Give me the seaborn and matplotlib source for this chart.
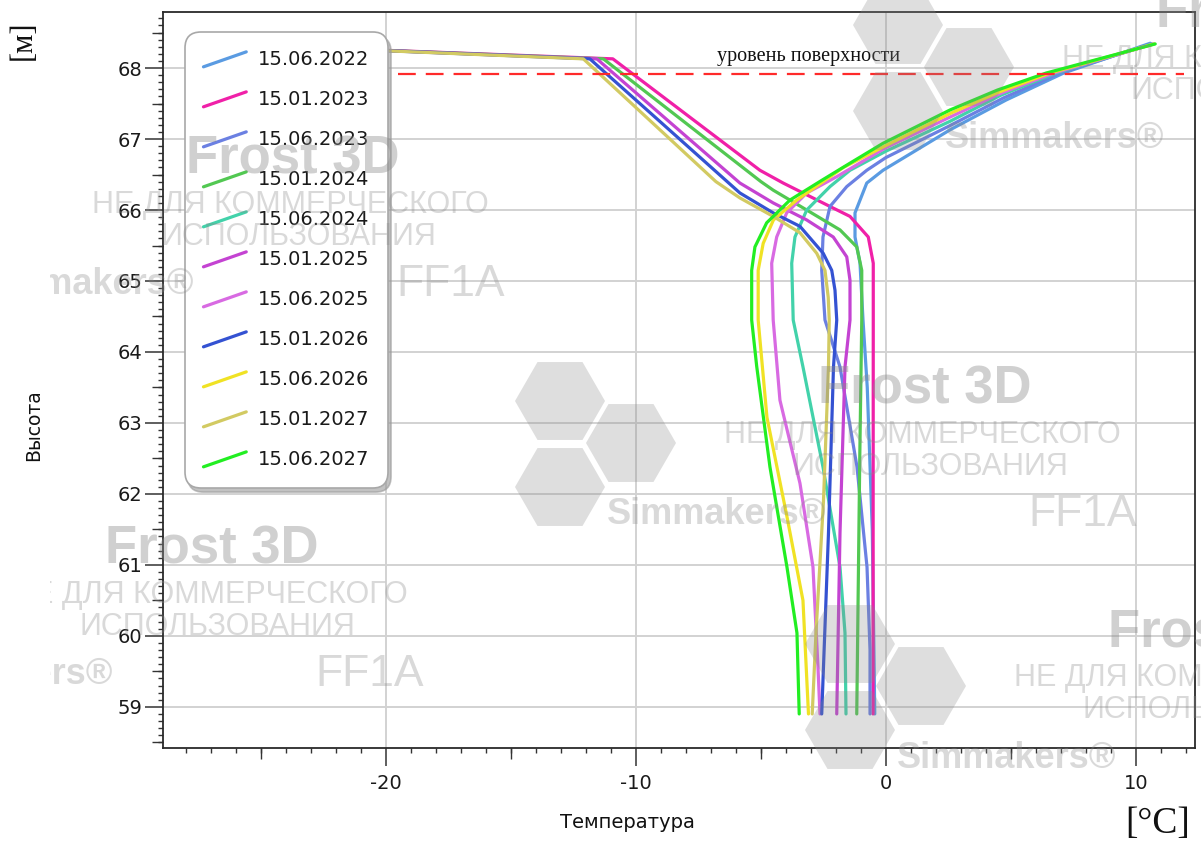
import numpy as np
import pandas as pd
import matplotlib
matplotlib.use("Agg")
import matplotlib.pyplot as plt
import seaborn as sns
from matplotlib.lines import Line2D
from matplotlib.legend_handler import HandlerLine2D
from matplotlib.patches import RegularPolygon, Rectangle
from matplotlib.ticker import MultipleLocator, FuncFormatter, NullLocator
from matplotlib.transforms import IdentityTransform

# ---------------- data ----------------
dates = ["15.06.2022", "15.01.2023", "15.06.2023", "15.01.2024", "15.06.2024",
         "15.01.2025", "15.06.2025", "15.01.2026", "15.06.2026", "15.01.2027",
         "15.06.2027"]
colors = ["#5a9be2", "#f020a8", "#6b80e2", "#52c852", "#42d2aa",
          "#c443d2", "#d86ae2", "#3452d2", "#f0e224", "#d2ca62",
          "#22ee22"]

t_2022_06 = [10.56, 7.1, 4.8, 2.56, -0.12, -0.77, -1.24, -1.24, -1.04, -0.92, -0.75, -0.55, -0.45]
z_2022_06 = [68.35, 67.93, 67.55, 67.13, 66.56, 66.38, 65.96, 65.62, 65.25, 64.45, 63.5, 61.5, 58.9]

t_2023_01 = [-26.0, -10.92, -5.04, -4.11, -2.24, -1.44, -0.71, -0.51, -0.51, -0.52]
z_2023_01 = [68.33, 68.13, 66.56, 66.38, 66.05, 65.91, 65.62, 65.25, 64.45, 58.9]

t_2023_06 = [10.6, 6.95, 4.7, 2.56, 0.0, -0.77, -1.57, -2.24, -2.52, -2.57, -2.44, -1.84, -1.16, -0.76, -0.64, -0.64]
z_2023_06 = [68.34, 67.93, 67.58, 67.19, 66.74, 66.56, 66.33, 66.05, 65.62, 65.15, 64.45, 63.79, 62.38, 60.97, 59.8, 58.9]

t_2024_01 = [-26.0, -11.3, -5.0, -4.51, -3.17, -1.84, -1.17, -0.97, -0.97, -1.05, -1.17]
z_2024_01 = [68.33, 68.13, 66.4, 66.28, 66.0, 65.72, 65.48, 65.15, 64.45, 62.5, 58.9]

t_2024_06 = [10.65, 6.8, 4.6, 2.56, 0.0, -1.44, -2.24, -3.17, -3.64, -3.77, -3.71, -3.32, -2.52, -1.84, -1.64, -1.6]
z_2024_06 = [68.34, 67.93, 67.62, 67.25, 66.83, 66.56, 66.33, 66.0, 65.62, 65.25, 64.45, 63.79, 62.38, 60.97, 60.04, 58.9]

t_2025_01 = [-26.0, -11.56, -5.84, -4.51, -3.17, -2.11, -1.57, -1.44, -1.44, -1.64, -1.84, -1.97]
z_2025_01 = [68.33, 68.13, 66.38, 66.1, 65.86, 65.62, 65.34, 65.01, 64.45, 63.79, 61.45, 58.9]

t_2025_06 = [10.7, 6.7, 4.55, 2.56, 0.0, -1.97, -3.17, -3.97, -4.37, -4.57, -4.51, -4.24, -3.44, -2.92, -2.72, -2.64]
z_2025_06 = [68.34, 67.93, 67.64, 67.31, 66.88, 66.47, 66.24, 65.96, 65.62, 65.25, 64.45, 63.32, 62.15, 60.97, 59.56, 58.9]

t_2026_01 = [-26.0, -11.84, -5.84, -4.51, -3.44, -2.51, -2.17, -2.04, -1.97, -2.1, -2.3, -2.57]
z_2026_01 = [68.33, 68.13, 66.24, 65.96, 65.77, 65.39, 65.15, 64.87, 64.45, 63.79, 61.45, 58.9]

t_2026_06 = [10.72, 6.55, 4.5, 2.56, 0.0, -1.7, -3.57, -4.5, -4.91, -5.11, -5.11, -4.76, -3.96, -3.32, -3.1]
z_2026_06 = [68.34, 67.93, 67.66, 67.36, 66.91, 66.6, 66.14, 65.86, 65.53, 65.15, 64.45, 63.08, 61.68, 60.5, 58.9]

t_2027_01 = [-26.0, -12.1, -6.8, -5.84, -4.51, -3.44, -2.77, -2.44, -2.31, -2.27, -2.3, -2.5, -2.8, -2.95]
z_2027_01 = [68.33, 68.13, 66.4, 66.17, 65.91, 65.68, 65.39, 65.15, 64.77, 64.45, 63.79, 61.9, 60.04, 58.9]

t_2027_06 = [10.76, 6.4, 4.45, 2.56, -0.12, -1.44, -2.56, -3.84, -4.77, -5.24, -5.37, -5.37, -5.17, -4.64, -3.96, -3.56, -3.47]
z_2027_06 = [68.34, 67.93, 67.69, 67.41, 66.94, 66.66, 66.42, 66.14, 65.82, 65.48, 65.15, 64.45, 63.8, 62.38, 60.97, 60.04, 58.9]

series_t = [t_2022_06, t_2023_01, t_2023_06, t_2024_01, t_2024_06, t_2025_01,
            t_2025_06, t_2026_01, t_2026_06, t_2027_01, t_2027_06]
series_z = [z_2022_06, z_2023_01, z_2023_06, z_2024_01, z_2024_06, z_2025_01,
            z_2025_06, z_2026_01, z_2026_06, z_2027_01, z_2027_06]

surface_z = 67.92
surface_t = [-19.5, 11.9]
surface_label = "уровень поверхности"

x_label = "Температура"
y_label = "Высота"
x_unit = "[°C]"
y_unit = "[м]"
x_lim = (-28.9, 12.35)
y_lim = (58.42, 68.79)

rows = []
for d, ts, zs in zip(dates, series_t, series_z):
    for t, z in zip(ts, zs):
        rows.append({"date": d, "T": t, "z": z})
df = pd.DataFrame(rows)

# ---------------- figure ----------------
sns.set_theme(style="white")
plt.rcParams["font.family"] = ["DejaVu Sans"]

W, H = 1201, 849
fig = plt.figure(figsize=(W / 100, H / 100), dpi=100)
fig.patch.set_facecolor("white")
ax = fig.add_axes([163 / W, 1 - 748 / H, (1195 - 163) / W, (748 - 12) / H])
ax.set_facecolor("white")

# ---- data lines ----
sns.lineplot(data=df, x="T", y="z", hue="date", hue_order=dates, palette=colors,
             sort=False, estimator=None, linewidth=2.3, ax=ax, legend=False)

# surface level
ax.plot(surface_t, [surface_z, surface_z], color="#ff2a2a", lw=1.6,
        dashes=(8, 4.5), zorder=3)
ax.text(-3.1, surface_z + 0.24, surface_label, ha="center",
        va="center", fontsize=14.5, family=["Liberation Serif", "DejaVu Serif"],
        color="#111111")

ax.set_xlim(*x_lim)
ax.set_ylim(*y_lim)

# ticks
ax.xaxis.set_major_locator(MultipleLocator(10))
ax.xaxis.set_minor_locator(MultipleLocator(1))
ax.yaxis.set_major_locator(MultipleLocator(1))
ax.yaxis.set_minor_locator(MultipleLocator(0.1))
ax.tick_params(which="major", direction="out", length=13, width=1.1,
               color="#333333", labelsize=14, labelcolor="#1a1a1a", pad=2)
ax.tick_params(which="minor", direction="out", length=3.6, width=1.0,
               color="#333333")
ax.tick_params(axis="x", which="both", bottom=True, top=False)
ax.tick_params(axis="y", which="both", left=True, right=False)
ax.tick_params(axis="x", which="major", pad=6)

secx = ax.secondary_xaxis("bottom")
secx.xaxis.set_major_locator(MultipleLocator(10, offset=5))
secx.xaxis.set_minor_locator(NullLocator())
secx.tick_params(which="major", direction="out", length=8, width=1.0,
                 color="#333333", labelbottom=False)
secx.spines["bottom"].set_visible(False)
secy = ax.secondary_yaxis("left")
secy.yaxis.set_major_locator(MultipleLocator(1, offset=0.5))
secy.yaxis.set_minor_locator(NullLocator())
secy.tick_params(which="major", direction="out", length=8, width=1.0,
                 color="#333333", labelleft=False)
secy.spines["left"].set_visible(False)

ax.xaxis.set_major_formatter(FuncFormatter(lambda v, p: f"{v:.0f}"))
ax.yaxis.set_major_formatter(FuncFormatter(lambda v, p: f"{v:.0f}"))

ax.grid(True, which="major", color="#d2d2d2", lw=1.4)
for s in ax.spines.values():
    s.set_visible(True)
    s.set_color("#2a2a2a")
    s.set_linewidth(1.3)

ax.set_xlabel(x_label, fontsize=14, color="#111111")
ax.set_ylabel(y_label, fontsize=13.5, color="#111111")
ax.xaxis.set_label_coords((627 - 163) / 1032, (748 - 813) / 736)
ax.yaxis.set_label_coords((43 - 163) / 1032, (748 - 425) / 736)

fig.text(23 / W, 1 - 40 / H, y_unit, rotation=90, ha="center", va="center",
         fontsize=22, family=["Liberation Serif", "DejaVu Serif"], color="#111111")
fig.text(1158 / W, 1 - 824 / H, x_unit, ha="center", va="center",
         fontsize=27, family=["Liberation Serif", "DejaVu Serif"], color="#111111")

# ---- legend with diagonal handles ----
class DiagHandler(HandlerLine2D):
    def create_artists(self, legend, orig_handle, xdescent, ydescent, width,
                       height, fontsize, trans):
        line = Line2D([-xdescent, -xdescent + width],
                      [-ydescent - 0.1 * height, -ydescent + 1.0 * height])
        self.update_prop(line, orig_handle, legend)
        line.set_transform(trans)
        return [line]

handles = [Line2D([], [], color=c, lw=2.3) for c in colors]
leg = ax.legend(handles, dates, loc="upper left",
                bbox_to_anchor=((185 - 163) / 1032, (748 - 32) / 736),
                borderaxespad=0, fontsize=14, handlelength=2.2,
                handletextpad=0.62, labelspacing=1.08, borderpad=0.95,
                frameon=True, fancybox=True, framealpha=1,
                edgecolor="#a8a8a8", facecolor="white",
                shadow={"color": "#9a9a9a", "alpha": 0.6, "ox": 2, "oy": -3},
                handler_map={Line2D: DiagHandler()})
leg.get_frame().set_boxstyle("round,pad=0,rounding_size=0.8")
leg.get_frame().set_linewidth(1.2)
for t in leg.get_texts():
    t.set_color("#1a1a1a")

# ---- watermark overlay (decoration, figure pixel coords) ----
WMC = "#8a8a8a"
clip = Rectangle((50, 0), W - 50, H, transform=IdentityTransform())
wm_items = [("Frost 3D", 0, 0, 38, "bold", 0.40),
            ("НЕ ДЛЯ КОММЕРЧЕСКОГО", -3, 45, 22, "normal", 0.32),
            ("ИСПОЛЬЗОВАНИЯ", 5, 77, 22, "normal", 0.32),
            ("Simmakers®", -208, 125, 26, "bold", 0.32),
            ("FF1A", 158, 125, 32, "normal", 0.32)]
hex_offsets = [(-365, 11), (-294, 53), (-365, 97)]
wm_groups = [(293, 160), (925, 390), (212, 550), (1215, 633), (1263, 14)]
for gx, gy in wm_groups:
    for dx, dy in hex_offsets:
        hx, hy = gx + dx, gy + dy
        p = RegularPolygon((hx, H - hy), numVertices=6, radius=45,
                           orientation=np.pi / 6, facecolor=WMC, alpha=0.28,
                           edgecolor="none", zorder=20,
                           transform=IdentityTransform())
        p.set_clip_path(clip)
        fig.patches.append(p)
        p.set_figure(fig)
    for txt, dx, dy, fs, fw, a in wm_items:
        t = fig.text((gx + dx) / W, 1 - (gy + dy) / H, txt, ha="center", va="center",
                     fontsize=fs, fontweight=fw, color=WMC, alpha=a,
                     family=["Liberation Sans", "DejaVu Sans"], zorder=21)
        t.set_clip_path(clip)

fig.savefig("out.png", dpi=100, facecolor="white")
